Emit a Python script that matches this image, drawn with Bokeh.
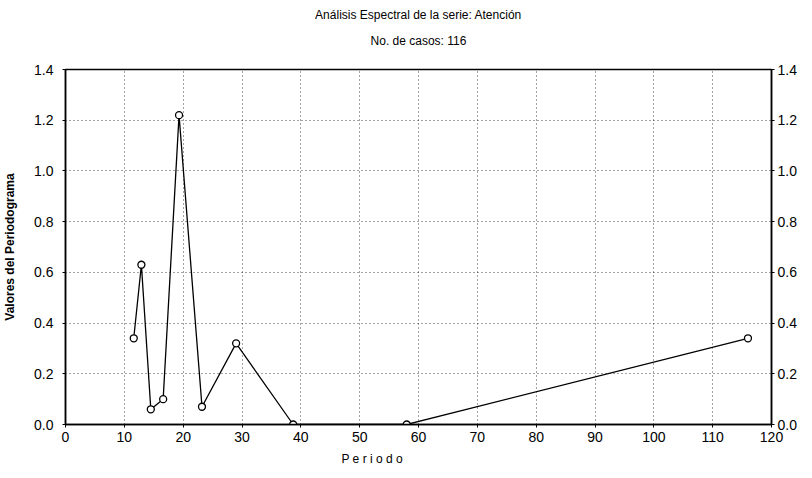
from bokeh.plotting import figure
from bokeh.models import LinearAxis, Title, Range1d, FixedTicker, CustomJSTickFormatter
from bokeh.embed import file_html
from bokeh.resources import INLINE

# Data
periodo = [11.6, 12.9, 14.5, 16.6, 19.3, 23.2, 29.0, 38.7, 58.0, 116.0]
valores = [0.34, 0.63, 0.06, 0.10, 1.22, 0.07, 0.32, 0.00, 0.00, 0.34]
x_ticks = [0, 10, 20, 30, 40, 50, 60, 70, 80, 90, 100, 110, 120]
y_ticks = [0.0, 0.2, 0.4, 0.6, 0.8, 1.0, 1.2, 1.4]

title_1 = "Análisis Espectral de la serie: Atención"
title_2 = "No. de casos: 116"
x_label = "P e r i o d o"
y_label = "Valores del Periodograma"

FONT = "Liberation Sans"

p = figure(frame_width=706, frame_height=355, output_backend="svg", toolbar_location=None,
           x_range=Range1d(0, 120), y_range=Range1d(0, 1.4),
           min_border_left=63, min_border_right=0, min_border_top=59, min_border_bottom=0)
p.title.visible = False

spacer = Title(text=" ", text_font=FONT, text_font_size="4px")
t2 = Title(text=title_2, align="center", offset=-10, text_font=FONT, text_font_size="12px",
           text_font_style="normal", text_color="black")
t1 = Title(text=title_1, align="center", offset=-10, text_font=FONT, text_font_size="12px",
           text_font_style="normal", text_color="black")
p.add_layout(spacer, "above")
p.add_layout(t2, "above")
p.add_layout(t1, "above")

p.outline_line_color = "black"
p.outline_line_width = 1.5

for g in (p.xgrid, p.ygrid):
    g.grid_line_color = "#444444"
    g.grid_line_dash = "1 3"
    g.grid_line_width = 1

p.xaxis.ticker = FixedTicker(ticks=x_ticks)
p.yaxis.ticker = FixedTicker(ticks=y_ticks)

right = LinearAxis(ticker=FixedTicker(ticks=y_ticks))
p.add_layout(right, "right")

fmt = CustomJSTickFormatter(code="return tick.toFixed(1);")

for ax in (p.xaxis[0], p.yaxis[0], right):
    ax.axis_line_color = "black"
    ax.axis_line_width = 1.5
    ax.major_tick_line_color = "black"
    ax.major_tick_out = 3
    ax.major_tick_in = 0
    ax.minor_tick_line_color = None
    ax.major_label_text_font = FONT
    ax.major_label_text_font_size = "14px"
    ax.major_label_text_color = "black"
    ax.major_label_standoff = 4

p.yaxis[0].major_label_standoff = 9
right.major_label_standoff = 3
p.yaxis[0].formatter = fmt
right.formatter = fmt

# x-axis title, slightly left of centre as in the reference
p.add_layout(Title(text=x_label, align="left", offset=276, text_font=FONT,
                   text_font_size="12px", text_font_style="normal",
                   text_color="black"), "below")

p.yaxis[0].axis_label = y_label
p.yaxis[0].axis_label_text_font = FONT
p.yaxis[0].axis_label_text_font_size = "12px"
p.yaxis[0].axis_label_text_font_style = "bold"
p.yaxis[0].axis_label_text_color = "black"
p.yaxis[0].axis_label_standoff = 14

p.line(periodo, valores, line_color="black", line_width=1.3)
p.scatter(periodo, valores, marker="circle", size=7, fill_color="white",
          line_color="black", line_width=1.3)

open("out.html", "w").write(file_html(p, INLINE))
